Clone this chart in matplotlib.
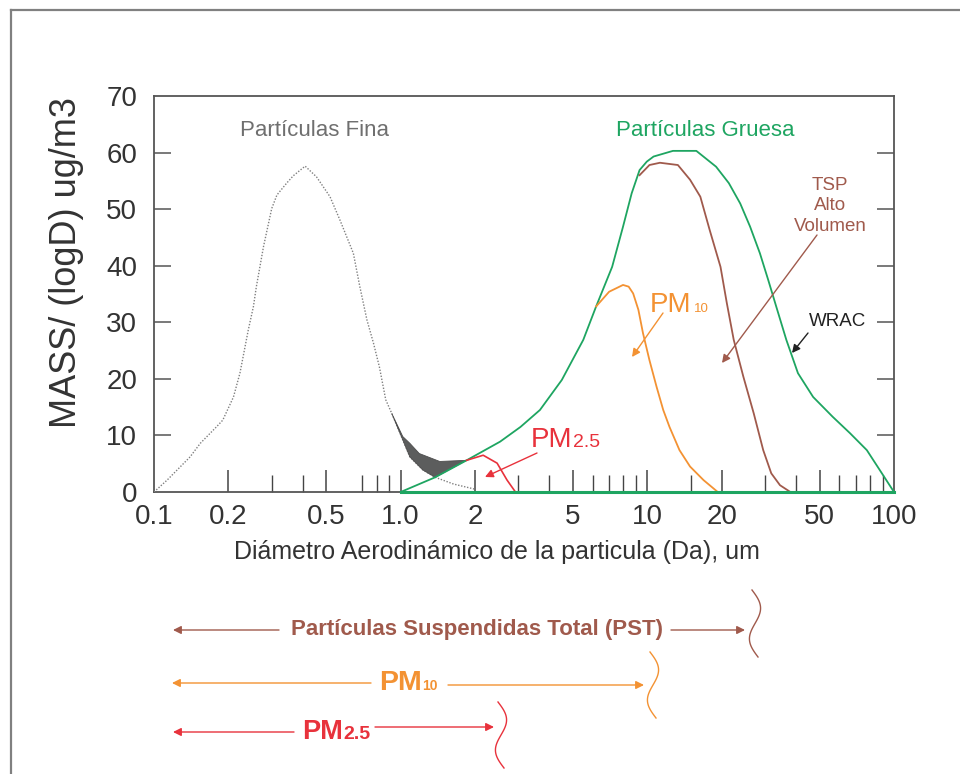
import numpy as np
import matplotlib
matplotlib.use("Agg")
import matplotlib.pyplot as plt
from matplotlib.ticker import FixedLocator, FixedFormatter, NullFormatter

plt.rcParams['font.family'] = ['Liberation Sans', 'DejaVu Sans']

# ---------------- data ----------------
fine_x = [0.1, 0.113, 0.14, 0.154, 0.179, 0.19, 0.21, 0.223, 0.234, 0.241, 0.253, 0.26,
          0.278, 0.30, 0.315, 0.345, 0.367, 0.41, 0.456, 0.517, 0.567, 0.643, 0.683,
          0.73, 0.776, 0.82, 0.87, 0.92, 1.09, 1.23, 1.38, 1.64, 2.0]
fine_y = [0, 2.1, 6.2, 8.6, 11.5, 12.7, 16.8, 21.0, 25.7, 28.6, 32.8, 36.3,
          43.4, 50.1, 52.5, 54.6, 55.9, 57.6, 55.7, 52.2, 48.1, 42.2, 36.3,
          30.4, 26.3, 22.1, 16.3, 13.9, 6.2, 3.9, 2.6, 1.4, 0.5]

coarse_x = [1.0, 1.38, 1.85, 2.53, 3.06, 3.67, 4.5, 5.5, 6.2, 7.2, 7.97, 8.64, 9.3,
            9.95, 10.6, 12.7, 15.8, 19.0, 21.4, 23.8, 26.1, 28.6, 30.9, 33.3, 36.6,
            40.8, 47.0, 56.4, 66.3, 77.6, 87.5, 100]
coarse_y = [0, 2.6, 5.6, 8.9, 11.5, 14.5, 19.8, 26.9, 32.8, 39.8, 46.9, 52.8, 56.9,
            58.4, 59.3, 60.3, 60.3, 57.5, 54.6, 51.0, 46.9, 42.2, 37.5, 32.8, 26.9,
            21.0, 16.8, 13.3, 10.4, 7.4, 3.9, 0]

pm25_x = [0.92, 1.02, 1.09, 1.19, 1.44, 1.85, 2.16, 2.46, 2.7, 2.92]
pm25_y = [13.9, 9.8, 8.6, 6.8, 5.4, 5.6, 6.5, 5.1, 2.1, 0]

pm10_x = [6.2, 7.0, 7.97, 8.4, 8.76, 9.2, 9.6, 10.2, 10.9, 11.6, 12.3, 13.5, 14.9, 16.9, 19.3]
pm10_y = [32.8, 35.4, 36.6, 36.3, 35.1, 32.2, 28.1, 23.3, 18.6, 14.5, 11.5, 7.4, 4.5, 2.1, 0]

tsp_x = [9.3, 10.2, 11.25, 13.3, 14.9, 16.4, 17.9, 19.8, 21.0, 22.4, 24.5, 27.0, 29.5,
         31.8, 34.5, 38]
tsp_y = [56, 57.8, 58.2, 57.8, 55.2, 52.2, 46.3, 39.8, 33.4, 26.9, 20.4, 13.9, 7.4,
         3.3, 1.2, 0]

x_major = [0.1, 0.2, 0.5, 1, 2, 5, 10, 20, 50, 100]
x_major_labels = ["0.1", "0.2", "0.5", "1.0", "2", "5", "10", "20", "50", "100"]
x_minor = [0.3, 0.4, 0.7, 0.8, 0.9, 3, 4, 6, 7, 8, 9, 15, 30, 40, 60, 70, 80, 90]
y_ticks = [0, 10, 20, 30, 40, 50, 60, 70]

# ---------------- colours ----------------
GREEN = '#1ea561'
BROWN = '#a05a4c'
ORANGE = '#f39233'
RED = '#e8323c'
GRAYTXT = '#6f6f6f'
DARK = '#333333'

W, H = 960, 774
fig = plt.figure(figsize=(W / 100, H / 100), dpi=100)

ax = fig.add_axes([154 / W, 1 - 492 / H, 740 / W, 396 / H])
ax.set_xscale('log')
ax.set_xlim(0.1, 100)
ax.set_ylim(0, 70)

# dark shaded region between PM2.5 inlet curve and max(fine, coarse)
p25x = np.array(pm25_x); p25y = np.array(pm25_y)
fx = np.array(fine_x); fy = np.array(fine_y)
cx = np.array(coarse_x); cy = np.array(coarse_y)
up = p25x <= 1.85
cm = (cx >= 1.38) & (cx <= 1.85)
fm = (fx >= 0.92) & (fx < 1.38)
poly_x = np.concatenate([p25x[up], cx[cm][::-1], fx[fm][::-1]])
poly_y = np.concatenate([p25y[up], cy[cm][::-1], fy[fm][::-1]])

ax.plot(fine_x, fine_y, color='#808080', ls=(0, (1, 1.2)), lw=1.0, zorder=3)
ax.fill(poly_x, poly_y, facecolor='#5c5d5d', edgecolor='#4d4d4d', lw=0.6,
        zorder=3.5)
ax.plot(coarse_x, coarse_y, color=GREEN, lw=1.3, zorder=4)
ax.plot(pm10_x, pm10_y, color=ORANGE, lw=1.3, zorder=4)
ax.plot(tsp_x, tsp_y, color=BROWN, lw=1.3, zorder=4)
red = p25x >= 1.85
ax.plot(p25x[red], p25y[red], color=RED, lw=1.2, zorder=4)
ax.plot([1, 100], [0, 0], color=GREEN, lw=2.2, zorder=5, clip_on=False)

for s in ax.spines.values():
    s.set_color('#555555')
    s.set_linewidth(1.3)

ax.xaxis.set_major_locator(FixedLocator(x_major))
ax.xaxis.set_major_formatter(FixedFormatter(x_major_labels))
ax.xaxis.set_minor_locator(FixedLocator(x_minor))
ax.xaxis.set_minor_formatter(NullFormatter())
ax.tick_params(axis='x', which='major', direction='in', length=15.5, width=1.1,
               color='#444444', labelsize=20, labelcolor=DARK, pad=9)
ax.tick_params(axis='x', which='minor', direction='in', length=12, width=1.0,
               color='#444444')
ax.set_yticks(y_ticks)
ax.tick_params(axis='y', which='major', direction='in', length=12, width=1.1,
               color='#555555', labelsize=20, labelcolor=DARK, pad=12,
               left=True, right=True)
xt = ax.xaxis.get_major_ticks()
for t in (xt[0], xt[-1]):
    t.tick1line.set_visible(False)
yt = ax.yaxis.get_major_ticks()
for t in (yt[0], yt[-1]):
    t.tick1line.set_visible(False)
    t.tick2line.set_visible(False)

# ---------------- overlay in pixel coordinates ----------------
ov = fig.add_axes([0, 0, 1, 1], zorder=10)
ov.set_xlim(0, W)
ov.set_ylim(H, 0)
ov.axis('off')
ov.patch.set_alpha(0)

# outer frame
ov.plot([11, W], [10, 10], color='#808080', lw=1.6, clip_on=False)
ov.plot([11, 11], [10, H], color='#808080', lw=1.6, clip_on=False)

ov.text(67, 263, "MASS/ (logD) ug/m3", rotation=90, ha='center', va='center',
        fontsize=26, color=DARK)
ov.text(497, 552, "Diámetro Aerodinámico de la particula (Da), um", ha='center',
        va='center', fontsize=18, color=DARK)

ov.text(315, 131, "Partículas Fina", ha='center', va='center', fontsize=16, color=GRAYTXT)
ov.text(705, 130, "Partículas Gruesa", ha='center', va='center', fontsize=16, color=GREEN)
ov.text(830, 206, "TSP\nAlto\nVolumen", ha='center', va='center', fontsize=13.5,
        color=BROWN, linespacing=1.25)
ov.text(838, 321, "WRAC", ha='center', va='center', fontsize=13.5, color='#222222')
ov.text(650, 312, "PM", ha='left', va='baseline', fontsize=20, color=ORANGE)
ov.text(694, 312, "10", ha='left', va='baseline', fontsize=9.5, color=ORANGE)
ov.text(531, 447, "PM", ha='left', va='baseline', fontsize=20, color=RED)
ov.text(573, 447, "2.5", ha='left', va='baseline', fontsize=14, color=RED)

def arrow(x0, y0, x1, y1, col, ms=12, lw=1.0):
    ov.annotate("", xy=(x1, y1), xytext=(x0, y0),
                arrowprops=dict(arrowstyle='-|>', color=col, lw=lw,
                                mutation_scale=ms, shrinkA=0, shrinkB=0))

arrow(663, 313, 632, 357, ORANGE)
arrow(817, 235, 722, 363, BROWN)
arrow(808, 333, 792, 353, '#222222')
arrow(537, 453, 485, 477, RED)

# bottom range bars
arrow(279, 630, 173, 630, BROWN)
arrow(671, 630, 745, 630, BROWN)
ov.text(477, 630, "Partículas Suspendidas Total (PST)", ha='center', va='center',
        fontsize=16, fontweight='bold', color=BROWN)

arrow(371, 683, 172, 683, ORANGE)
arrow(448, 685, 644, 685, ORANGE)
ov.text(379, 690, "PM", ha='left', va='baseline', fontsize=20.5, fontweight='bold', color=ORANGE)
ov.text(422, 690, "10", ha='left', va='baseline', fontsize=10, fontweight='bold', color=ORANGE)

arrow(294, 732, 173, 732, RED)
arrow(375, 727, 494, 727, RED)
ov.text(302, 739, "PM", ha='left', va='baseline', fontsize=19.5, fontweight='bold', color=RED)
ov.text(343, 739, "2.5", ha='left', va='baseline', fontsize=14, fontweight='bold', color=RED)

def wave(x0, y0, h, col):
    t = np.linspace(0, 1, 60)
    ov.plot(x0 + 6 * t + 7 * np.sin(2 * np.pi * t), y0 + h * t, color=col, lw=1.0)

wave(752, 590, 67, BROWN)
wave(650, 652, 66, ORANGE)
wave(498, 702, 66, RED)

fig.savefig("out.png", dpi=100)
